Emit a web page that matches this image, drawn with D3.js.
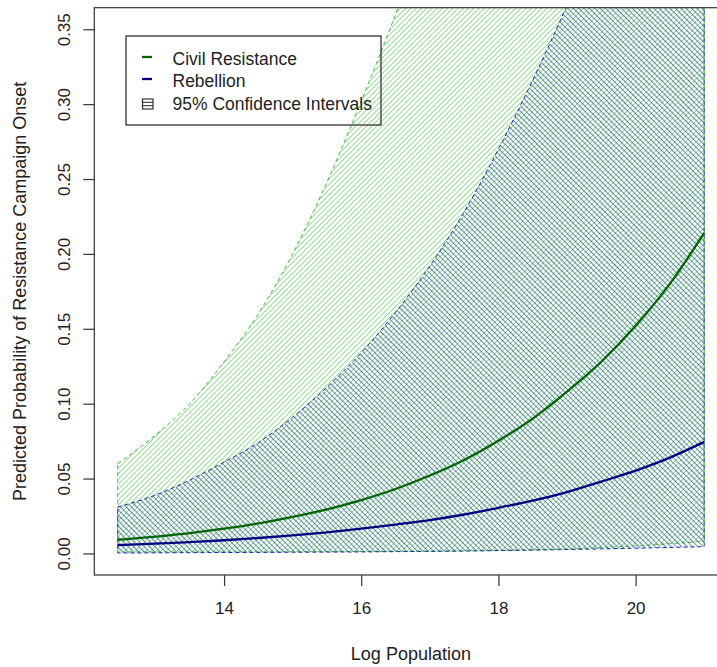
<!DOCTYPE html>
<html>
<head>
<meta charset="utf-8">
<script src="https://cdn.jsdelivr.net/npm/d3@7"></script>
<style>
  html, body { margin: 0; padding: 0; background: #fff; }
  svg { display: block; }
  text { font-family: "Liberation Sans", Arial, sans-serif; fill: #222; }
</style>
</head>
<body>
<svg id="chart" width="717" height="667"></svg>
<script>
// ---- data ----
const logPop = [12.45, 13, 13.5, 14, 14.5, 15, 15.5, 16, 16.5, 17, 17.5, 18, 18.5, 19, 19.5, 20, 20.5, 21];
const civilMean  = [0.009, 0.0112, 0.0135, 0.0165, 0.020, 0.0244, 0.0294, 0.0356, 0.043, 0.052, 0.0624, 0.0752, 0.090, 0.108, 0.128, 0.152, 0.180, 0.214];
const civilLower = [0.001, 0.001, 0.001, 0.001, 0.001, 0.0011, 0.0012, 0.0013, 0.0014, 0.0015, 0.0017, 0.002, 0.0025, 0.003, 0.004, 0.005, 0.0065, 0.008];
const civilUpper = [0.060, 0.079, 0.100, 0.128, 0.160, 0.200, 0.248, 0.302, 0.360, 0.422, 0.485, 0.548, 0.610, 0.670, 0.730, 0.780, 0.820, 0.856];
const rebelMean  = [0.0055, 0.0065, 0.0076, 0.0088, 0.0103, 0.0121, 0.0141, 0.0165, 0.0193, 0.0223, 0.026, 0.0305, 0.0352, 0.041, 0.048, 0.0553, 0.064, 0.0745];
const rebelLower = [0.0003, 0.0004, 0.0005, 0.0006, 0.0007, 0.0008, 0.0009, 0.001, 0.0012, 0.0014, 0.0016, 0.0019, 0.0022, 0.0026, 0.003, 0.0035, 0.004, 0.0045];
const rebelUpper = [0.031, 0.039, 0.049, 0.061, 0.074, 0.091, 0.111, 0.134, 0.161, 0.192, 0.228, 0.270, 0.316, 0.366, 0.420, 0.470, 0.530, 0.580];
const xTicks = [14, 16, 18, 20];
const yTicks = [0, 0.05, 0.10, 0.15, 0.20, 0.25, 0.30, 0.35];
const legendLabels = ["Civil Resistance", "Rebellion", "95% Confidence Intervals"];
const xTitle = "Log Population";
const yTitle = "Predicted Probability of Resistance Campaign Onset";

// ---- layout ----
const plot = { left: 94.3, right: 727.5, top: 7.7, bottom: 575 };
const svg = d3.select("#chart");
const x = d3.scaleLinear().domain([12.108, 21.34]).range([plot.left, plot.right]);
const y = d3.scaleLinear().domain([-0.0144, 0.3644]).range([plot.bottom, plot.top]);

const defs = svg.append("defs");
defs.append("clipPath").attr("id", "clip").append("rect")
  .attr("x", plot.left).attr("y", plot.top)
  .attr("width", plot.right - plot.left).attr("height", plot.bottom - plot.top);

function hatch(id, color, spacing, width, angle, opacity) {
  const p = defs.append("pattern").attr("id", id)
    .attr("patternUnits", "userSpaceOnUse")
    .attr("width", spacing).attr("height", spacing)
    .attr("patternTransform", `rotate(${angle})`);
  p.append("rect").attr("x", 0).attr("y", 0)
    .attr("width", width).attr("height", spacing)
    .attr("fill", color).attr("fill-opacity", opacity);
}
hatch("hGreen", "#5acb5a", 3.7, 0.9, 45, 0.7);
hatch("hBlue", "#1f4f92", 3.8, 0.9, -45, 0.72);

const rowsC = logPop.map((v, i) => ({ x: v, m: civilMean[i], lo: civilLower[i], hi: civilUpper[i] }));
const rowsR = logPop.map((v, i) => ({ x: v, m: rebelMean[i], lo: rebelLower[i], hi: rebelUpper[i] }));

const area = d3.area().x(d => x(d.x)).y0(d => y(d.lo)).y1(d => y(d.hi)).curve(d3.curveMonotoneX);
const line = d3.line().x(d => x(d.x)).y(d => y(d.m)).curve(d3.curveMonotoneX);

const g = svg.append("g").attr("clip-path", "url(#clip)");
g.append("path").datum(rowsC).attr("d", area)
  .attr("fill", "url(#hGreen)").attr("stroke", "#3cc03c").attr("stroke-width", 1)
  .attr("stroke-dasharray", "4,3");
g.append("path").datum(rowsR).attr("d", area)
  .attr("fill", "url(#hBlue)").attr("stroke", "#1a2a9a").attr("stroke-width", 1)
  .attr("stroke-dasharray", "4,3");
g.append("path").datum(rowsC).attr("d", line)
  .attr("fill", "none").attr("stroke", "#006400").attr("stroke-width", 2.3);
g.append("path").datum(rowsR).attr("d", line)
  .attr("fill", "none").attr("stroke", "#000080").attr("stroke-width", 2.3);

// ---- box ----
svg.append("rect").attr("x", plot.left).attr("y", plot.top)
  .attr("width", plot.right - plot.left).attr("height", plot.bottom - plot.top)
  .attr("fill", "none").attr("stroke", "#333").attr("stroke-width", 1.2);

// ---- axes ----
const xAxis = d3.axisBottom(x).tickValues(xTicks).tickSize(11).tickPadding(16).tickFormat(d3.format("d"));
const gx = svg.append("g").attr("transform", `translate(0,${plot.bottom})`).call(xAxis);
gx.select(".domain").remove();
gx.selectAll(".tick line").attr("stroke", "#333").attr("stroke-width", 1.2);
gx.selectAll(".tick text").attr("font-size", 17).attr("fill", "#222")
  .style("font-family", '"Liberation Sans", Arial, sans-serif');

const yAxis = d3.axisLeft(y).tickValues(yTicks).tickSize(11).tickFormat(d3.format(".2f"));
const gy = svg.append("g").attr("transform", `translate(${plot.left},0)`).call(yAxis);
gy.select(".domain").remove();
gy.selectAll(".tick line").attr("stroke", "#333").attr("stroke-width", 1.2);
gy.selectAll(".tick text")
  .attr("font-size", 17).attr("fill", "#222")
  .attr("x", null).attr("dy", null)
  .attr("text-anchor", "middle")
  .attr("transform", "translate(-24,0) rotate(-90)")
  .style("font-family", '"Liberation Sans", Arial, sans-serif');

// ---- titles ----
svg.append("text").attr("x", (plot.left + plot.right) / 2).attr("y", 660)
  .attr("text-anchor", "middle").attr("font-size", 18).text(xTitle);
svg.append("text").attr("transform", `translate(26,${(plot.top + plot.bottom) / 2}) rotate(-90)`)
  .attr("text-anchor", "middle").attr("font-size", 18).text(yTitle);

// ---- legend ----
const lg = svg.append("g");
lg.append("rect").attr("x", 126).attr("y", 36).attr("width", 255).attr("height", 89)
  .attr("fill", "none").attr("stroke", "#222").attr("stroke-width", 1.2);
const rowY = [59, 81, 104];
lg.append("line").attr("x1", 142).attr("x2", 152).attr("y1", rowY[0] - 2).attr("y2", rowY[0] - 2)
  .attr("stroke", "#006400").attr("stroke-width", 2.3);
lg.append("line").attr("x1", 142).attr("x2", 152).attr("y1", rowY[1] - 2).attr("y2", rowY[1] - 2)
  .attr("stroke", "#000080").attr("stroke-width", 2.3);
lg.append("rect").attr("x", 142.5).attr("y", 99).attr("width", 10.5).attr("height", 10)
  .attr("fill", "none").attr("stroke", "#222").attr("stroke-width", 1.1);
[102.3, 105.7].forEach(yy => lg.append("line").attr("x1", 142.5).attr("x2", 153).attr("y1", yy).attr("y2", yy)
  .attr("stroke", "#222").attr("stroke-width", 1));
legendLabels.forEach((t, i) => {
  lg.append("text").attr("x", 172.5).attr("y", rowY[i] + 6).attr("font-size", 17.5).text(t);
});
</script>
</body>
</html>
